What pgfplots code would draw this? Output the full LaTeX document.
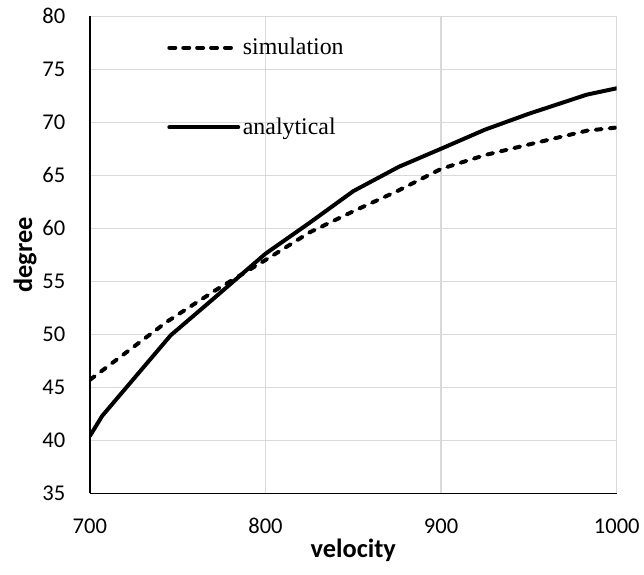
\documentclass[border=0pt]{standalone}
\usepackage{pgfplots}
\pgfplotsset{compat=1.18}
\usepackage{fontspec}
\setmainfont{Carlito}
\newfontfamily\legfont{Liberation Serif}
\definecolor{gridgray}{HTML}{D9D9D9}
\begin{document}
\begin{tikzpicture}
\begin{axis}[
  scale only axis,
  width=397.5pt, height=360pt,
  xmin=700, xmax=1000, ymin=35, ymax=80,
  xtick={700,800,900,1000}, ytick={35,40,...,80},
  axis x line=bottom, axis y line=left,
  axis line style={-, line width=1.2pt, black},
  major tick length=0pt,
  grid=major,
  major grid style={gridgray, line width=1pt},
  /pgf/number format/assume math mode=true,
  /pgf/number format/1000 sep={},
  tick label style={font=\fontsize{17}{20}\selectfont},
  xticklabel style={yshift=-15.5pt},
  yticklabel style={xshift=-15pt},
  xlabel={\textbf{velocity}},
  ylabel={\textbf{degree}},
  label style={font=\fontsize{19.9}{23}\selectfont},
  xlabel style={yshift=3pt},
  ylabel style={yshift=-2.5pt},
  legend style={at={(0.139,0.965)}, anchor=north west, draw=none, fill=none,
    font=\legfont\fontsize{18}{21}\selectfont, row sep=42pt},
  legend cell align=left,
  legend image code/.code={\draw[#1] (0pt,0pt) -- (52pt,0pt);},
]
\addplot[black, line width=3pt, line cap=round, dash pattern=on 4.5pt off 6pt] coordinates {
(700,45.7) (712,47.2) (744,51.2) (772,54.2) (800,57.0) (825,59.6) (850,61.6)
(875,63.5) (900,65.6) (925,66.9) (950,67.9) (983,69.2) (1000,69.5)};
\addlegendentry{simulation}
\addplot[black, line width=3pt, line cap=round, line join=round] coordinates {
(700,40.4) (707,42.3) (746,49.9) (770,53.3) (800,57.6) (825,60.5) (850,63.5)
(876,65.8) (900,67.5) (925,69.3) (950,70.8) (983,72.6) (1000,73.2)};
\addlegendentry{analytical}
\end{axis}
\path ([xshift=-7pt,yshift=3pt]current bounding box.north west);
\path ([yshift=-6pt]current bounding box.south east);
\end{tikzpicture}
\end{document}
